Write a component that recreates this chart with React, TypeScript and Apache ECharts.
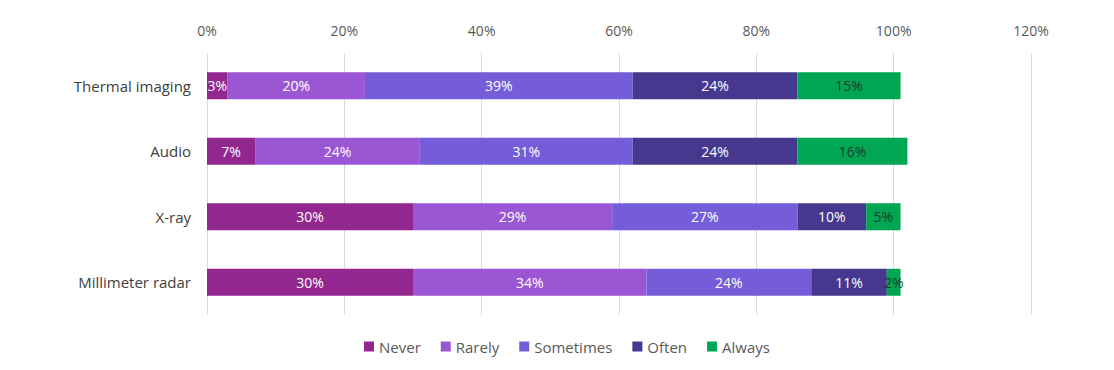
import React, { useEffect, useRef } from "react";
import * as echarts from "echarts";

const categories = ["Thermal imaging", "Audio", "X-ray", "Millimeter radar"];
const seriesNames = ["Never", "Rarely", "Sometimes", "Often", "Always"];
const never = [3, 7, 30, 30];
const rarely = [20, 24, 29, 34];
const sometimes = [39, 31, 27, 24];
const often = [24, 24, 10, 11];
const always = [15, 16, 5, 2];
const colors = ["#92278F", "#9B57D3", "#755DD9", "#45388E", "#00A651"];
const labelColors = ["#ffffff", "#ffffff", "#ffffff", "#ffffff", "#1f3b2a"];
const xTicks = [0, 20, 40, 60, 80, 100, 120];

const FONT = "'Open Sans', 'Noto Sans', sans-serif";

export default function App() {
  const ref = useRef<HTMLDivElement>(null);
  useEffect(() => {
    if (!ref.current) return;
    const chart = echarts.init(ref.current, null, { renderer: "svg" });
    const all = [never, rarely, sometimes, often, always];
    chart.setOption({
      animation: false,
      textStyle: { fontFamily: FONT },
      grid: { left: 199, right: 75, top: 45, bottom: 47, containLabel: false },
      legend: {
        bottom: 3,
        left: 351,
        itemWidth: 10,
        itemHeight: 10,
        itemGap: 20,
        itemStyle: { borderWidth: 0 },
        icon: "rect",
        textStyle: { fontSize: 15, color: "#595959", fontFamily: FONT },
        data: seriesNames,
      },
      xAxis: {
        type: "value",
        position: "top",
        min: xTicks[0],
        max: xTicks[xTicks.length - 1],
        interval: 20,
        axisLine: { show: false },
        axisTick: { show: false },
        splitLine: { show: true, lineStyle: { color: "#d9d9d9", width: 1 } },
        axisLabel: {
          formatter: "{value}%",
          fontSize: 14,
          color: "#595959",
          margin: 16,
          fontFamily: FONT,
        },
      },
      yAxis: {
        type: "category",
        inverse: true,
        data: categories,
        axisLine: { show: false },
        axisTick: { show: false },
        axisLabel: { fontSize: 15, color: "#404040", margin: 16, fontFamily: FONT },
      },
      series: seriesNames.map((name, i) => ({
        name,
        type: "bar",
        stack: "total",
        barWidth: 27,
        data: all[i],
        itemStyle: { color: colors[i] },
        label: {
          show: true,
          position: "inside",
          formatter: "{c}%",
          color: labelColors[i],
          fontSize: 14,
          fontFamily: FONT,
        },
      })),
    });
    return () => chart.dispose();
  }, []);
  return <div ref={ref} style={{ width: 1098, height: 354 }} />;
}
